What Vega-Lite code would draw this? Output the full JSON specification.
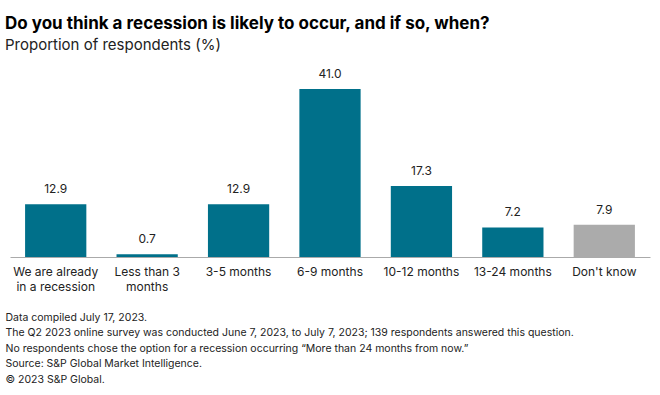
{
  "$schema": "https://vega.github.io/schema/vega-lite/v6.json",
  "autosize": {"type": "none"},
  "width": 640,
  "height": 168,
  "padding": {"left": 10, "top": 89, "right": 10, "bottom": 138},
  "background": "white",
  "title": {
    "text": "Do you think a recession is likely to occur, and if so, when?",
    "subtitle": "Proportion of respondents (%)",
    "anchor": "start",
    "frame": "group",
    "dx": -5,
    "offset": 14,
    "font": "Inter",
    "fontSize": 17,
    "fontWeight": "bold",
    "color": "#000000",
    "subtitleFont": "Inter",
    "subtitleFontSize": 15,
    "subtitleColor": "#222222",
    "subtitlePadding": 5
  },
  "data": {
    "values": [
      {"answer": "We are already|in a recession", "pct": 12.9, "group": "a"},
      {"answer": "Less than 3|months", "pct": 0.7, "group": "a"},
      {"answer": "3-5 months", "pct": 12.9, "group": "a"},
      {"answer": "6-9 months", "pct": 41.0, "group": "a"},
      {"answer": "10-12 months", "pct": 17.3, "group": "a"},
      {"answer": "13-24 months", "pct": 7.2, "group": "a"},
      {"answer": "Don't know", "pct": 7.9, "group": "b"}
    ]
  },
  "encoding": {
    "x": {
      "field": "answer",
      "type": "nominal",
      "sort": null,
      "scale": {"paddingInner": 0.33, "paddingOuter": 0.165},
      "axis": {
        "title": [
          "Data compiled July 17, 2023.",
          "The Q2 2023 online survey was conducted June 7, 2023, to July 7, 2023; 139 respondents answered this question.",
          "No respondents chose the option for a recession occurring \u201cMore than 24 months from now.\u201d",
          "Source: S&P Global Market Intelligence.",
          "\u00a9 2023 S&P Global."
        ],
        "titleAnchor": "start",
        "titleAlign": "left",
        "titleX": -5,
        "titleY": 63,
        "titleBaseline": "alphabetic",
        "titleFont": "Inter",
        "titleFontSize": 10.5,
        "titleFontWeight": "normal",
        "titleColor": "#222222",
        "titleLineHeight": 15.5,
        "labelExpr": "split(datum.value, '|')",
        "labelAngle": 0,
        "labelFont": "Inter",
        "labelFontSize": 12,
        "labelColor": "#222222",
        "labelLineHeight": 15,
        "labelPadding": 9,
        "ticks": false,
        "domainColor": "#aaaaaa",
        "domainWidth": 1
      }
    },
    "y": {
      "field": "pct",
      "type": "quantitative",
      "scale": {"domain": [0, 41], "nice": false},
      "axis": null
    }
  },
  "layer": [
    {
      "mark": {"type": "bar"},
      "encoding": {
        "color": {
          "field": "group",
          "type": "nominal",
          "scale": {"domain": ["a", "b"], "range": ["#00708a", "#ababab"]},
          "legend": null
        }
      }
    },
    {
      "mark": {"type": "text", "baseline": "bottom", "dy": -8, "font": "Inter", "fontSize": 12, "color": "#222222"},
      "encoding": {
        "text": {"field": "pct", "type": "quantitative", "format": ".1f"}
      }
    }
  ],
  "config": {
    "view": {"stroke": null}
  }
}
